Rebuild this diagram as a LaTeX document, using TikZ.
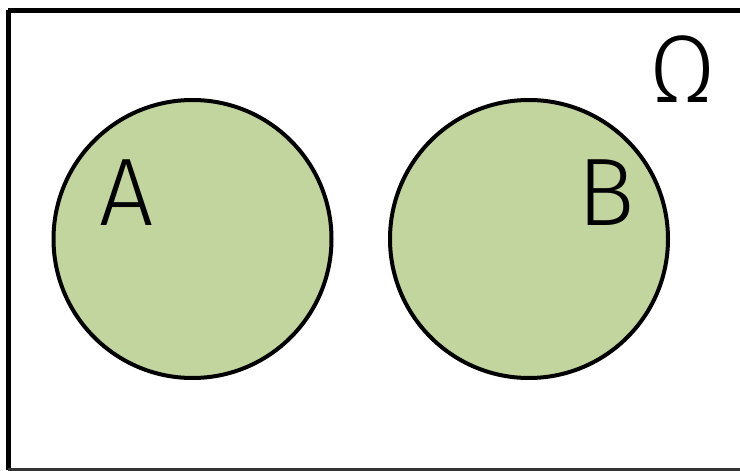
\documentclass[tikz,border=0pt]{standalone}
\usepackage{fontspec}
\setmainfont{Fira Sans Light}
\definecolor{setfill}{HTML}{C3D59E}
\begin{document}
\begin{tikzpicture}[x=1pt,y=-1pt,
  setcircle/.style={circle,draw=black,line width=4pt,fill=setfill,minimum size=278pt,inner sep=0pt},
  setlabel/.style={anchor=base,inner sep=0pt,font=\fontsize{96}{96}\selectfont}]
  \useasboundingbox (0,0) rectangle (740,471);
  \clip (0,0) rectangle (740,471);
  \fill[white] (0,0) rectangle (740,471);
  % universe frame, running off the right and bottom edges
  \draw[line width=5pt] (8,10) -- (760,10);
  \draw[line width=5pt] (8,10) -- (8,469.5);
  \draw[line width=3pt,black!80] (8,469.5) -- (760,469.5);
  % the two disjoint events
  \node[setcircle] (A) at (192.5,239) {};
  \node[setcircle] (B) at (529,239) {};
  \node[setlabel] (la) at (126.5,225) {A};
  \node[setlabel] (lb) at (606,225) {B};
  \node[setlabel] (lo) at (682.5,102) {Ω};
\end{tikzpicture}
\end{document}
